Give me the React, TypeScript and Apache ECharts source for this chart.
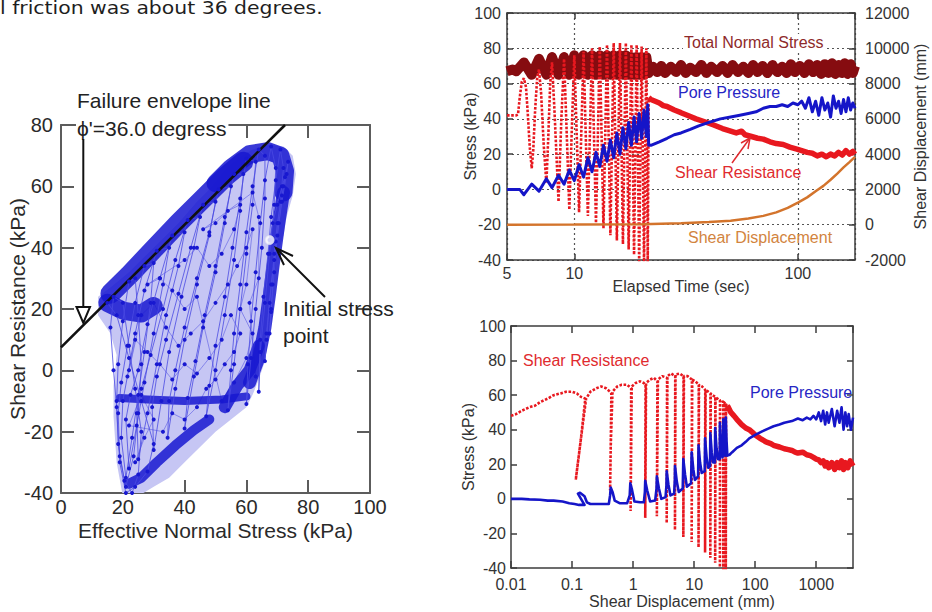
import { useEffect, useRef } from "react";
import * as echarts from "echarts";

const FONT = "'Liberation Sans', Arial, Helvetica, sans-serif";

// ================= Left panel: effective stress path =================
const leftXRange = [0, 100];
const leftYRange = [-40, 80];
const leftTickStep = 20;
const failureEnvelope = [[0, 7.5], [72.5, 80]];
const initialStressPoint = [[67.5, 42.5]];
const cloudOutline = [
  [20, -41], [18, -30], [17, -15], [17, -5], [18, 5], [16, 12], [12, 18], [12, 24], [16, 27], [22, 32], [30, 40],
  [38, 48], [44, 55], [48, 59], [52, 64], [57, 69], [62, 72], [67, 73.5], [72, 73], [75, 70], [76, 64], [75, 57],
  [73, 50], [72, 44], [70, 38], [69, 30], [68, 20], [67, 10], [66, 3], [64, -3], [62, -8], [60, -12], [55, -16],
  [50, -20], [45, -25], [40, -30], [35, -35], [30, -38], [25, -41],
];
const stressPath = [
  [67.5, 42.5], [68.5, 48], [70, 54], [71.5, 60], [72.5, 63], [71.5, 57], [70, 48], [69, 38], [68.5, 28], [68, 19], [67.5, 12], [68, 20], [69, 32], [70, 44], [71.5, 55], [73, 64],
  [73.5, 68], [72, 60], [70.5, 48], [69, 36], [67.5, 22], [66.5, 10], [66, 3], [66.5, 12], [68, 28], [69.5, 42], [71, 55], [72, 66],
  [71, 72], [69.5, 62], [68, 50], [67, 38], [65.5, 24], [64.5, 10], [64, -7], [64.5, 6], [66, 22], [67.5, 38], [69, 54], [69.5, 66],
  [68, 73], [66, 62], [64.5, 48], [63, 32], [61.5, 16], [60.5, 2], [60, -11], [61.5, 4], [63, 20], [65, 40], [66, 56], [66, 70],
  [64, 72], [62, 60], [60, 45], [58, 28], [56, 12], [55, 0], [54, -13], [56, 2], [58, 20], [60, 38], [62, 54], [63, 68],
  [60, 69], [58, 56], [55.5, 40], [53, 24], [50, 8], [48, -5], [47, -15], [50, 0], [53, 18], [56, 36], [58, 52], [59, 64],
  [56, 64], [53, 50], [50, 34], [46.5, 18], [43.5, 3], [41, -9], [40, -19], [43, -2], [46, 14], [50, 32], [53, 48], [55, 60],
  [51, 59], [48, 45], [44, 30], [40, 14], [37, 0], [35, -10], [34.5, -22], [37, -6], [40, 10], [44, 28], [48, 44], [50, 55],
  [46, 54], [42, 40], [38, 25], [34, 10], [31, -2], [29.5, -12], [30, -26], [32.5, -10], [35, 6], [39, 24], [43, 40], [45, 50],
  [41, 49], [37, 36], [33, 20], [29, 5], [26, -6], [24.5, -14], [25, -29], [28, -14], [31, 2], [34, 18], [38, 34], [40, 45],
  [36, 44], [32, 30], [28, 15], [25, 0], [22.5, -8], [21, -16], [22, -32], [24.5, -18], [27, -4], [30, 12], [33, 28], [35, 40],
  [31, 39], [27, 26], [24, 12], [21.5, -2], [20, -10], [19.5, -22], [21, -35], [23, -22], [25, -8], [27, 6], [29, 22], [30, 35],
  [27, 34], [24, 22], [21.5, 8], [19.5, -4], [18.5, -14], [19, -28], [21, -38], [23.5, -28], [25, -14], [26, 2], [25, 18], [24, 30],
  [22, 29], [20, 16], [18.5, 2], [18, -10], [18.5, -24], [20.5, -36], [23, -40], [25, -34], [26, -20], [24, -6], [22, 8], [20, 22],
  [17, 24], [16, 14], [17, 0], [18, -12], [19, -30], [21, -40], [24, -38], [28, -33], [30, -24], [26, -10], [22, 4], [18, 18], [15, 22],
];
const interiorPoints = [
  [24, -30], [27, -22], [30, -16], [26, -8], [22, -18], [33, -20], [36, -14], [40, -16], [44, -12], [47, -6], [50, -3],
  [53, 2], [56, 6], [58, 12], [55, 18], [52, 10], [48, 4], [44, -1], [40, 2], [36, -3], [32, 2], [28, 6], [24, 10],
  [22, 0], [26, 18], [30, 22], [34, 14], [38, 8], [42, 12], [46, 16], [50, 22], [54, 28], [57, 34], [60, 40], [62, 46],
  [60, 28], [58, 20], [62, 12], [60, 4], [56, -4], [52, -10], [44, 24], [40, 20], [36, 26], [32, 30], [28, 28], [40, 36],
  [44, 40], [48, 34], [52, 38], [56, 46], [58, 54], [54, 52], [50, 48], [46, 46], [62, 58], [64, 50], [64, 30], [61, 22], [63, -2],
];
const bandAlongEnvelope = [[16, 25], [22, 31], [30, 39.5], [38, 48], [46, 56], [53, 63], [59, 68]];
const bandTopLobe = [[50, 61], [55, 66], [61, 70.5], [67, 71.5], [71, 70], [72.5, 65], [72, 58]];
const bandRightEdge = [[72, 58], [70.5, 48], [69, 37], [67.5, 25], [66, 14], [64, 4], [61, -4]];
const bandLowerLeftLobe = [[15, 22], [20, 19.5], [26, 18.5], [30, 21]];
const bandMinusTen = [[19, -9], [28, -9.5], [40, -10], [52, -9.5], [60, -8.5]];
const bandBottom = [[22, -37], [26, -35], [31, -30], [37, -24.5], [43, -19.5], [48, -16]];
const bandRightLow = [[64, 8], [61, 0], [57, -5], [53, -12]];

// ================= Top-right panel: time histories =================
const timeRange = [5, 180];
const stressRange = [-40, 100];
const dispRange = [-2000, 12000];
const totalNormalStress = [
  [5, 67], [5.3, 68], [5.5, 67], [5.95, 72], [6.45, 65], [6.95, 74], [7.5, 65], [7.95, 75], [8.5, 65], [9, 75], [9.5, 65],
  [10, 76], [10.5, 65], [11, 76], [11.5, 65], [12, 76], [12.5, 65], [13, 76], [13.5, 65], [14, 76], [14.5, 65],
  [15, 76], [15.5, 65], [16, 76], [16.5, 65], [17, 76], [17.5, 65], [18, 75], [18.5, 65], [19, 75], [19.5, 65],
  [20, 75], [20.5, 65], [21, 75], [21.5, 66], [22.5, 69.5], [23.5, 66.5], [24.5, 70], [25.5, 66], [27, 69.5], [28.5, 66.5],
  [30, 70.5], [31.5, 66], [33, 69], [35, 66.5], [37, 70.5], [39, 66], [41, 69.5], [43.5, 66.5], [46, 70], [48.5, 66],
  [51, 70.5], [54, 66.5], [57, 69.5], [60, 66], [63, 70.5], [66, 66.5], [69.5, 70], [73, 66], [77, 70.5], [81, 66.5],
  [85, 69.5], [89, 66], [93, 71], [97, 66.5], [102, 70], [107, 66], [112, 71], [117, 66.5], [122, 70.5], [127, 65.5],
  [132, 71], [137, 66], [142, 71.5], [147, 65.5], [152, 70.5], [157, 66], [162, 71.5], [167, 65.5], [172, 71], [176, 66], [180, 70],
];
const shearResistanceCyclic = [
  [5, 42], [5.5, 42], [5.6, 42.5], [5.7, 52], [5.82, 61], [5.95, 63], [6.08, 58], [6.2, 42], [6.32, 24], [6.45, 12],
  [6.55, 22], [6.68, 45], [6.82, 63], [6.95, 68], [7.1, 55], [7.3, 25], [7.5, 3.5], [7.65, 30], [7.8, 60], [7.95, 72],
  [8.15, 45], [8.5, -7], [8.75, 40], [9, 74], [9.2, 40], [9.5, -11.5], [9.75, 35], [10, 76], [10.5, -13], [11, 78],
  [11.5, -15], [12, 80], [12.5, -19], [13, 81], [13.5, -22], [14, 82], [14.5, -26], [15, 83], [15.5, -29], [16, 83],
  [16.5, -31], [17, 83], [17.5, -34], [18, 82], [18.5, -37], [19, 82], [19.5, -42], [20, 81], [20.5, -42], [21, 80],
  [21.3, -42], [21.5, 52],
];
const shearResistancePost = [
  [21.5, 52], [22, 51], [23, 50], [24, 49], [25, 47.5], [26, 47], [28, 45], [30, 43.5], [32, 42], [35, 40], [38, 38.5],
  [42, 36.5], [46, 34.5], [50, 33], [53, 32], [56, 33], [58, 31], [62, 30], [66, 29], [70, 28.5], [75, 27], [80, 26],
  [86, 25.5], [92, 24], [98, 23], [104, 22], [110, 21], [116, 20.5], [122, 19], [128, 20], [134, 18.5], [140, 20],
  [146, 19], [152, 21], [158, 19.5], [164, 22], [170, 20], [176, 21.5], [180, 20],
];
const porePressureTime = [
  [5, 0], [5.7, 0], [5.95, -3], [6.45, 3], [6.95, -1], [7.5, 6], [7.95, 1], [8.5, 8], [9, 3], [9.5, 11], [10, 5],
  [10.5, 14], [11, 7], [11.5, 18], [12, 10], [12.5, 21], [13, 13], [13.5, 25], [14, 16], [14.5, 28], [15, 18],
  [15.5, 32], [16, 20], [16.5, 35], [17, 23], [17.5, 38], [18, 25], [18.5, 41], [19, 27], [19.5, 43], [20, 29],
  [20.5, 45], [21, 30], [21.3, 48], [21.5, 25], [22, 25], [24, 27], [26, 29], [28, 31], [30, 32], [33, 34], [36, 36],
  [40, 38], [45, 40], [50, 41], [55, 42], [60, 43], [65, 44], [70, 46], [75, 47], [80, 47], [85, 48], [90, 47],
  [95, 49], [100, 48], [104, 50], [108, 46], [112, 52], [116, 44], [120, 50], [124, 42], [128, 52], [132, 45],
  [136, 49], [140, 41], [144, 53], [148, 46], [152, 50], [156, 43], [160, 51], [164, 44], [168, 52], [172, 45],
  [176, 49], [180, 46],
];
const shearDisplacementTime = [
  [5, 0], [10, 10], [20, 30], [30, 80], [40, 150], [50, 230], [60, 350], [70, 500], [80, 700], [90, 950],
  [100, 1250], [110, 1550], [120, 1900], [130, 2200], [140, 2550], [150, 2900], [160, 3250], [170, 3550], [180, 3850],
];

// ================= Bottom-right panel: vs shear displacement =================
const dispLogRange = [0.01, 4000];
const shearVsDispCyclic = [
  [0.01, 48], [0.012, 49], [0.015, 51], [0.02, 53], [0.025, 54], [0.03, 56], [0.04, 58], [0.05, 60], [0.065, 61],
  [0.08, 62], [0.1, 62], [0.12, 61], [0.14, 59], [0.165, 58], [0.14, 35], [0.115, 11], [0.14, 35], [0.17, 58],
  [0.2, 62], [0.25, 64], [0.3, 65], [0.36, 64], [0.42, 62], [0.44, 61], [0.43, 30], [0.42, 5], [0.43, 30], [0.46, 62],
  [0.55, 65], [0.65, 66], [0.8, 66], [0.93, 64], [0.91, -7], [0.95, 65], [1.1, 67], [1.3, 68], [1.5, 67], [1.6, 66],
  [1.58, -11], [1.63, 67], [1.9, 69], [2.2, 70], [2.5, 68], [2.45, -10], [2.55, 69], [3.0, 71], [3.6, 70], [3.55, -14],
  [3.65, 71], [4.2, 72.5], [4.9, 71], [4.85, -18], [4.95, 72], [5.8, 72.5], [6.7, 71], [6.65, -22], [6.8, 71],
  [7.8, 71], [9.2, 69], [9.1, -25], [9.3, 69], [10.5, 68], [11.9, 66], [11.8, -28], [12, 66], [13.5, 65], [15.2, 63],
  [15.1, -31], [15.4, 63], [17, 62], [18.5, 61], [18.4, -34], [18.7, 61], [20, 60], [22.2, 59], [22.1, -37], [22.4, 59],
  [24, 58], [26.5, 57], [26.4, -39.5], [26.7, 57], [28, 57], [30, 56], [30, -42], [30.3, 56], [31, 56], [33, 55],
  [33, -42], [33.3, 55], [35, 54],
];
const shearVsDispPost = [
  [35, 54], [40, 50], [45, 48], [50, 46], [60, 43], [70, 41], [80, 40], [90, 38.5], [100, 37], [120, 35], [150, 33],
  [180, 32], [200, 31], [250, 30], [300, 29], [350, 28.5], [400, 28], [450, 27], [500, 26.5], [600, 27], [700, 25.5],
  [800, 25], [900, 24], [1000, 23], [1100, 22.5], [1200, 21], [1300, 22], [1400, 19], [1500, 21], [1600, 18],
  [1800, 21], [2000, 17], [2200, 21], [2400, 18], [2600, 22], [2800, 17], [3000, 21], [3300, 18], [3600, 22], [4000, 19],
];
const poreVsDisp = [
  [0.01, 0], [0.015, 0], [0.02, -0.3], [0.03, -0.5], [0.04, -1], [0.05, -1], [0.07, -1.5], [0.09, -2.5], [0.11, -3],
  [0.13, -3.5], [0.16, -3.5], [0.14, 0], [0.125, 3], [0.135, 3.5], [0.16, 1.5], [0.175, -2], [0.2, -3], [0.3, -3],
  [0.4, -3], [0.42, 2], [0.43, 6.5], [0.46, 4], [0.5, -1], [0.6, -2.5], [0.8, -2.5], [0.88, 2], [0.9, 9], [0.95, 6],
  [1.05, -1.5], [1.3, -2], [1.5, -2], [1.56, 4], [1.58, 10.5], [1.7, 5], [1.9, -1.5], [2.3, -1], [2.42, 6], [2.45, 13],
  [2.65, 6], [2.9, 0], [3.4, 1], [3.52, 8], [3.55, 16], [3.8, 8], [4.1, 2], [4.7, 3], [4.83, 11], [4.85, 19],
  [5.2, 10], [5.6, 4], [6.5, 6], [6.65, 23], [7.1, 14], [7.6, 7], [8.9, 9], [9.1, 27], [9.7, 17], [10.3, 11],
  [11.6, 13], [11.8, 31], [12.5, 21], [13.3, 15], [14.9, 16], [15.1, 35], [16, 24], [17, 18], [18.2, 19], [18.4, 38],
  [19.4, 27], [20.5, 21], [21.9, 21], [22.1, 41], [23.3, 29], [24.5, 23], [26.2, 23], [26.4, 44], [27.7, 31], [29, 24],
  [29.8, 25], [30, 46], [31.4, 32], [32.5, 25], [33, 47], [34, 33], [35, 25], [38, 25.5], [42, 27], [50, 29.5],
  [60, 31], [70, 33], [80, 35], [100, 37], [130, 39], [160, 40.5], [200, 42], [250, 43], [300, 44], [400, 45],
  [500, 46.5], [600, 45.5], [700, 47], [800, 46], [900, 48], [1000, 46], [1100, 50], [1200, 45], [1300, 51],
  [1400, 43], [1500, 50], [1600, 44], [1800, 52], [2000, 42], [2200, 51], [2400, 44], [2600, 53], [2800, 40],
  [3000, 50], [3200, 42], [3400, 49], [3700, 40], [4000, 47],
];

const C_RED = "#e8181f";
const C_DARKRED = "#860c10";
const C_BLUE = "#1515c8";
const C_ORANGE = "#d3742c";
const C_LEFT_BLUE = "#1818d0";

const logFmt = (v: number) => String(parseFloat(Number(v).toPrecision(4)));
const plainFmt = (v: number) => String(v);

function buildOption() {
  const leftLine = { show: true, onZero: false, lineStyle: { color: "#5c5c5c", width: 2 } };
  const leftTick = { show: true, inside: true, length: 13, lineStyle: { color: "#5c5c5c", width: 2 } };
  const leftLabel = { fontSize: 20, color: "#2a2a2a", fontFamily: FONT };
  const rLine = { show: true, onZero: false, lineStyle: { color: "#3c3c3c", width: 1.5 } };
  const rTick = { show: true, inside: true, length: 6, lineStyle: { color: "#3c3c3c", width: 1.5 } };
  const rLabel = { fontSize: 16, color: "#333", fontFamily: FONT };
  const rName = { fontSize: 16, color: "#333", fontFamily: FONT };
  const noSplit = { show: false };
  const gridDots = { show: true, lineStyle: { color: "#555", width: 1.2, type: [2, 3] as any } };

  const band = (data: number[][], width: number) => ({
    type: "line", xAxisIndex: 0, yAxisIndex: 0, data, symbol: "none", silent: true,
    lineStyle: { color: C_LEFT_BLUE, width, cap: "round", join: "round", opacity: 0.85 },
  });
  const noSym = { symbol: "none", showSymbol: false, silent: true };

  return {
    animation: false,
    backgroundColor: "#ffffff",
    textStyle: { fontFamily: FONT },
    grid: [
      { left: 61, top: 125, width: 309, height: 368 },
      { left: 507, top: 13, width: 348, height: 247 },
      { left: 511, top: 326, width: 342, height: 242 },
    ],
    xAxis: [
      {
        gridIndex: 0, type: "value", position: "bottom", min: leftXRange[0], max: leftXRange[1], interval: leftTickStep,
        axisLine: leftLine, axisTick: leftTick, axisLabel: { ...leftLabel, margin: 4 }, splitLine: noSplit,
        name: "Effective Normal Stress (kPa)", nameLocation: "middle", nameGap: 27, nameMoveOverlap: false,
        nameTextStyle: { fontSize: 21, color: "#2a2a2a", fontFamily: FONT },
      },
      {
        gridIndex: 0, type: "value", position: "top", min: leftXRange[0], max: leftXRange[1], interval: leftTickStep,
        axisLine: leftLine, axisTick: leftTick, axisLabel: { show: false }, splitLine: noSplit,
      },
      {
        gridIndex: 1, type: "log", logBase: 10, position: "bottom", min: timeRange[0], max: timeRange[1],
        axisLine: rLine, axisTick: rTick, axisLabel: { ...rLabel, margin: 5, formatter: logFmt, showMaxLabel: false },
        splitLine: gridDots, minorTick: { show: false },
        name: "Elapsed Time (sec)", nameLocation: "middle", nameGap: 18, nameMoveOverlap: false, nameTextStyle: rName,
      },
      {
        gridIndex: 1, type: "log", logBase: 10, position: "top", min: timeRange[0], max: timeRange[1],
        axisLine: rLine, axisTick: rTick, axisLabel: { show: false }, splitLine: noSplit,
      },
      {
        gridIndex: 2, type: "log", logBase: 10, position: "bottom", min: dispLogRange[0], max: dispLogRange[1],
        axisLine: rLine, axisTick: { ...rTick, length: 7 }, axisLabel: { ...rLabel, margin: 8, formatter: logFmt, showMaxLabel: false },
        splitLine: noSplit,
        name: "Shear Displacement (mm)", nameLocation: "middle", nameGap: 25, nameMoveOverlap: false, nameTextStyle: rName,
      },
      {
        gridIndex: 2, type: "log", logBase: 10, position: "top", min: dispLogRange[0], max: dispLogRange[1],
        axisLine: rLine, axisTick: { ...rTick, length: 7 }, axisLabel: { show: false }, splitLine: noSplit,
      },
    ],
    yAxis: [
      {
        gridIndex: 0, type: "value", position: "left", min: leftYRange[0], max: leftYRange[1], interval: leftTickStep,
        axisLine: leftLine, axisTick: leftTick, axisLabel: { ...leftLabel, margin: 8 }, splitLine: noSplit,
        name: "Shear Resistance (kPa)", nameLocation: "middle", nameGap: 33, nameMoveOverlap: false,
        nameTextStyle: { fontSize: 21, color: "#2a2a2a", fontFamily: FONT },
      },
      {
        gridIndex: 0, type: "value", position: "right", min: leftYRange[0], max: leftYRange[1], interval: leftTickStep,
        axisLine: leftLine, axisTick: leftTick, axisLabel: { show: false }, splitLine: noSplit,
      },
      {
        gridIndex: 1, type: "value", position: "left", min: stressRange[0], max: stressRange[1], interval: 20,
        axisLine: rLine, axisTick: rTick, axisLabel: { ...rLabel, margin: 6 }, splitLine: gridDots,
        name: "Stress (kPa)", nameLocation: "middle", nameGap: 29, nameMoveOverlap: false, nameTextStyle: rName,
      },
      {
        gridIndex: 1, type: "value", position: "right", min: dispRange[0], max: dispRange[1], interval: 2000,
        axisLine: rLine, axisTick: rTick, axisLabel: { ...rLabel, margin: 10, formatter: plainFmt }, splitLine: noSplit,
        name: "Shear Displacement (mm)", nameLocation: "middle", nameGap: 57, nameMoveOverlap: false, nameTextStyle: rName,
      },
      {
        gridIndex: 2, type: "value", position: "left", min: stressRange[0], max: stressRange[1], interval: 20,
        axisLine: rLine, axisTick: rTick, axisLabel: { ...rLabel, margin: 5 }, splitLine: noSplit,
        name: "Stress (kPa)", nameLocation: "middle", nameGap: 35, nameMoveOverlap: false, nameTextStyle: rName,
      },
      {
        gridIndex: 2, type: "value", position: "right", min: stressRange[0], max: stressRange[1], interval: 20,
        axisLine: rLine, axisTick: rTick, axisLabel: { show: false }, splitLine: noSplit,
      },
    ],
    series: [
      {
        type: "custom", xAxisIndex: 0, yAxisIndex: 0, data: cloudOutline, silent: true, clip: true,
        renderItem: (params: any, api: any) => {
          if (params.dataIndex !== 0) return null;
          const pts = cloudOutline.map((p) => api.coord(p));
          return { type: "polygon", shape: { points: pts }, style: { fill: "#c6c6f4" } };
        },
      },
      {
        type: "line", xAxisIndex: 0, yAxisIndex: 0, data: interiorPoints, symbol: "circle", symbolSize: 4, showSymbol: true,
        silent: true, itemStyle: { color: C_LEFT_BLUE }, lineStyle: { color: "#6a6ae6", width: 0.7 },
      },
      band(bandAlongEnvelope, 20),
      band(bandTopLobe, 18),
      band(bandRightEdge, 13),
      band(bandLowerLeftLobe, 18),
      band(bandMinusTen, 8),
      band(bandBottom, 10),
      band(bandRightLow, 12),
      {
        type: "line", xAxisIndex: 0, yAxisIndex: 0, data: stressPath, symbol: "circle", symbolSize: 4, showSymbol: true,
        silent: true, itemStyle: { color: C_LEFT_BLUE }, lineStyle: { color: "#4a4ae2", width: 0.8 },
      },
      {
        type: "line", xAxisIndex: 0, yAxisIndex: 0, data: failureEnvelope, ...noSym,
        lineStyle: { color: "#111", width: 2.6 },
      },
      {
        type: "scatter", xAxisIndex: 0, yAxisIndex: 0, data: initialStressPoint, symbolSize: 9, silent: true,
        itemStyle: { color: "#ffffff", borderColor: "#dde", borderWidth: 1 }, z: 5,
      },
      {
        type: "line", xAxisIndex: 2, yAxisIndex: 2, data: totalNormalStress, ...noSym,
        lineStyle: { color: C_DARKRED, width: 10, join: "round" },
      },
      {
        type: "line", xAxisIndex: 2, yAxisIndex: 2, data: shearResistanceCyclic, ...noSym,
        lineStyle: { color: C_RED, width: 2.6, type: [2.6, 1.6] as any },
      },
      {
        type: "line", xAxisIndex: 2, yAxisIndex: 2, data: shearResistancePost, ...noSym,
        lineStyle: { color: C_RED, width: 5.5, join: "round" },
      },
      {
        type: "line", xAxisIndex: 2, yAxisIndex: 2, data: porePressureTime, ...noSym,
        lineStyle: { color: C_BLUE, width: 3, join: "round" },
      },
      {
        type: "line", xAxisIndex: 2, yAxisIndex: 3, data: shearDisplacementTime, ...noSym,
        lineStyle: { color: C_ORANGE, width: 2.5 },
      },
      {
        type: "line", xAxisIndex: 4, yAxisIndex: 4, data: shearVsDispCyclic, ...noSym,
        lineStyle: { color: C_RED, width: 2.6, type: [2.6, 1.6] as any },
      },
      {
        type: "line", xAxisIndex: 4, yAxisIndex: 4, data: shearVsDispPost, ...noSym,
        lineStyle: { color: C_RED, width: 5.5, join: "round" },
      },
      {
        type: "line", xAxisIndex: 4, yAxisIndex: 4, data: poreVsDisp, ...noSym,
        lineStyle: { color: C_BLUE, width: 2.6, join: "round" },
      },
    ],
    graphic: {
      elements: [
        {
          type: "text", x: 0, y: 8, scaleX: 1.2, z: 100,
          style: { text: "l friction was about 36 degrees.", fill: "#1e1e1e", fontSize: 17, fontFamily: "'DejaVu Sans', Verdana, sans-serif", align: "left", verticalAlign: "middle" },
        },
        {
          type: "text", x: 77, y: 100, z: 100,
          style: { text: "Failure envelope line", fill: "#222", fontSize: 21, fontFamily: FONT, align: "left", verticalAlign: "middle" },
        },
        {
          type: "text", x: 76, y: 128, z: 100,
          style: { text: "ϕ'=36.0 degress", fill: "#222", fontSize: 21, fontFamily: FONT, align: "left", verticalAlign: "middle", backgroundColor: "#ffffff", padding: [0, 2, 0, 1] },
        },
        { type: "line", z: 100, shape: { x1: 83.3, y1: 139, x2: 83.3, y2: 307 }, style: { stroke: "#111", lineWidth: 2 } },
        { type: "polygon", z: 100, shape: { points: [[76.5, 307], [90, 307], [83.3, 323]] }, style: { fill: "#ffffff", stroke: "#111", lineWidth: 2 } },
        { type: "line", z: 100, shape: { x1: 325, y1: 297, x2: 276, y2: 248 }, style: { stroke: "#111", lineWidth: 2 } },
        { type: "polyline", z: 100, shape: { points: [[284, 265], [276, 248], [293, 256]] }, style: { stroke: "#111", lineWidth: 2, fill: null } },
        {
          type: "text", x: 283, y: 308, z: 100,
          style: { text: "Initial stress", fill: "#222", fontSize: 21, fontFamily: FONT, align: "left", verticalAlign: "middle" },
        },
        {
          type: "text", x: 283, y: 335, z: 100,
          style: { text: "point", fill: "#222", fontSize: 21, fontFamily: FONT, align: "left", verticalAlign: "middle" },
        },
        {
          type: "text", x: 683, y: 42, z: 100,
          style: { text: "Total Normal Stress", fill: "#8e2a2a", fontSize: 16, fontFamily: FONT, align: "left", verticalAlign: "middle", backgroundColor: "#ffffff", padding: [0, 1] },
        },
        {
          type: "text", x: 678, y: 92, z: 100,
          style: { text: "Pore Pressure", fill: "#2626c4", fontSize: 16, fontFamily: FONT, align: "left", verticalAlign: "middle" },
        },
        {
          type: "text", x: 675, y: 172, z: 100,
          style: { text: "Shear Resistance", fill: "#e02a2e", fontSize: 16, fontFamily: FONT, align: "left", verticalAlign: "middle" },
        },
        { type: "line", z: 100, shape: { x1: 732, y1: 163, x2: 750, y2: 138 }, style: { stroke: "#e02a2e", lineWidth: 1.5 } },
        { type: "polyline", z: 100, shape: { points: [[741, 143], [750, 138], [748, 149]] }, style: { stroke: "#e02a2e", lineWidth: 1.5, fill: null } },
        {
          type: "text", x: 688, y: 237, z: 100,
          style: { text: "Shear Displacement", fill: "#d2843e", fontSize: 16, fontFamily: FONT, align: "left", verticalAlign: "middle" },
        },
        {
          type: "text", x: 523, y: 360, z: 100,
          style: { text: "Shear Resistance", fill: "#e02a2e", fontSize: 16, fontFamily: FONT, align: "left", verticalAlign: "middle" },
        },
        {
          type: "text", x: 750, y: 392, z: 100,
          style: { text: "Pore Pressure", fill: "#2626c4", fontSize: 16, fontFamily: FONT, align: "left", verticalAlign: "middle" },
        },
      ],
    },
  };
}

export default function App() {
  const ref = useRef<HTMLDivElement>(null);
  useEffect(() => {
    if (!ref.current) return;
    const chart = echarts.init(ref.current, null, { renderer: "svg" });
    chart.setOption(buildOption() as any);
    return () => chart.dispose();
  }, []);
  return <div ref={ref} style={{ position: "absolute", left: 0, top: 0, width: 932, height: 612 }} />;
}
